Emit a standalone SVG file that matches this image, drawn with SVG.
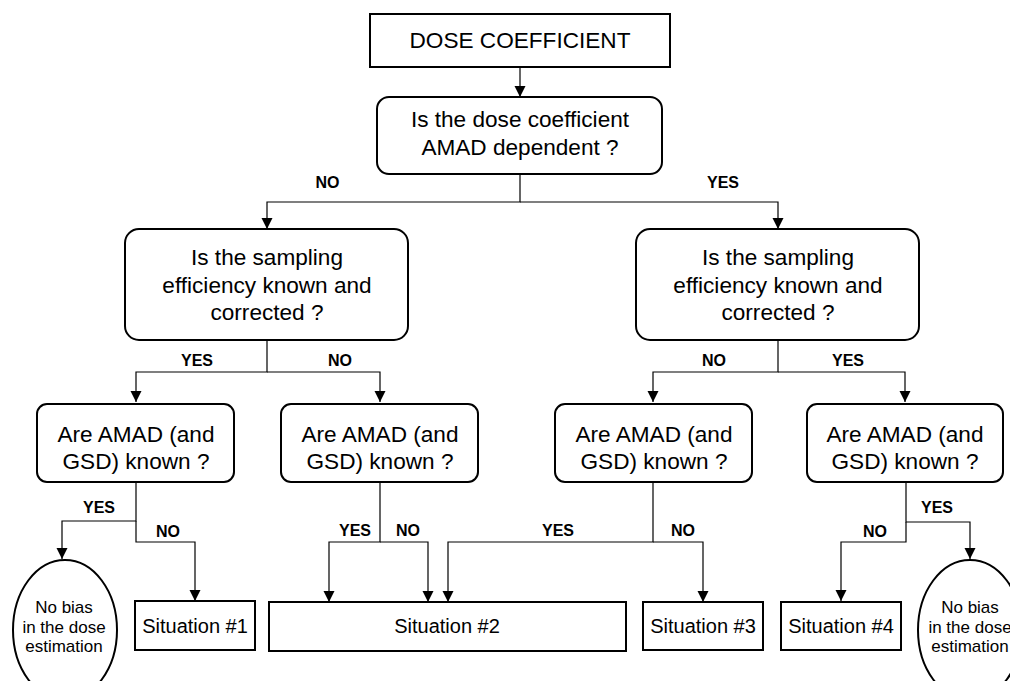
<svg xmlns="http://www.w3.org/2000/svg" width="1010" height="681" viewBox="0 0 1010 681">
<defs>
<marker id="ah" markerUnits="userSpaceOnUse" markerWidth="12" markerHeight="12" viewBox="0 0 12 12" refX="11" refY="6" orient="auto">
<path d="M0,0.5 L11,6 L0,11.5 Z" fill="#000"/>
</marker>
<style>
.box{fill:#fff;stroke:#000;stroke-width:2}
.t{font-family:"Liberation Sans",Arial,sans-serif;font-size:22.6px;text-anchor:middle;fill:#000}
.s{font-family:"Liberation Sans",Arial,sans-serif;font-size:20px;text-anchor:middle;fill:#000}
.e{font-family:"Liberation Sans",Arial,sans-serif;font-size:17px;text-anchor:middle;fill:#000}
.l{font-family:"Liberation Sans",Arial,sans-serif;font-size:16px;font-weight:bold;text-anchor:middle;fill:#000}
.c{fill:none;stroke:#000;stroke-width:1.2;marker-end:url(#ah)}
</style>
</defs>
<rect width="1010" height="681" fill="#fff"/>
<g id="connectors">
<path class="c" d="M520,67 V97"/>
<path class="c" d="M520,174 V202 H267 V229"/>
<path class="c" d="M520,202 H778 V229"/>
<path class="c" d="M267,340 V372 H136 V402"/>
<path class="c" d="M267,372 H380 V402"/>
<path class="c" d="M778,340 V372 H653 V402"/>
<path class="c" d="M778,372 H905 V402"/>
<path class="c" d="M136,482 V521 H62 V559"/>
<path class="c" d="M136,521 V542 H195 V601"/>
<path class="c" d="M380,482 V542 H329 V602"/>
<path class="c" d="M380,542 H428 V602"/>
<path class="c" d="M653,482 V542 H448 V602"/>
<path class="c" d="M653,542 H703 V602"/>
<path class="c" d="M906,482 V522 H970 V559"/>
<path class="c" d="M906,522 V542 H841 V601"/>
<text class="l" x="327.5" y="188">NO</text>
<text class="l" x="723" y="188">YES</text>
<text class="l" x="197" y="366">YES</text>
<text class="l" x="340" y="366">NO</text>
<text class="l" x="714" y="366">NO</text>
<text class="l" x="848" y="366">YES</text>
<text class="l" x="99" y="513">YES</text>
<text class="l" x="168" y="537">NO</text>
<text class="l" x="355" y="536">YES</text>
<text class="l" x="408" y="536">NO</text>
<text class="l" x="558" y="536">YES</text>
<text class="l" x="683" y="536">NO</text>
<text class="l" x="937" y="513">YES</text>
<text class="l" x="875" y="537">NO</text>
</g>
<g id="dose-coefficient">
<rect class="box" x="370" y="14" width="300" height="53"/>
<text class="t" x="520" y="48">DOSE COEFFICIENT</text>
</g>
<g id="amad-dependent">
<rect class="box" x="377" y="97" width="285" height="77" rx="12"/>
<text class="t" x="520" y="127">Is the dose coefficient</text>
<text class="t" x="520" y="155">AMAD dependent ?</text>
</g>
<g id="sampling-left">
<rect class="box" x="125" y="229" width="283" height="111" rx="14"/>
<text class="t" x="267" y="265">Is the sampling</text>
<text class="t" x="267" y="292.5">efficiency known and</text>
<text class="t" x="267" y="319.5">corrected ?</text>
</g>
<g id="sampling-right">
<rect class="box" x="636" y="229" width="283" height="111" rx="14"/>
<text class="t" x="778" y="265">Is the sampling</text>
<text class="t" x="778" y="292.5">efficiency known and</text>
<text class="t" x="778" y="319.5">corrected ?</text>
</g>
<g id="amad-1">
<rect class="box" x="37" y="404" width="197" height="78" rx="10"/>
<text class="t" x="136" y="442">Are AMAD (and</text>
<text class="t" x="136" y="469">GSD) known ?</text>
</g>
<g id="amad-2">
<rect class="box" x="281" y="404" width="197" height="78" rx="10"/>
<text class="t" x="380" y="442">Are AMAD (and</text>
<text class="t" x="380" y="469">GSD) known ?</text>
</g>
<g id="amad-3">
<rect class="box" x="555" y="404" width="197" height="78" rx="10"/>
<text class="t" x="654" y="442">Are AMAD (and</text>
<text class="t" x="654" y="469">GSD) known ?</text>
</g>
<g id="amad-4">
<rect class="box" x="807" y="404" width="196" height="78" rx="10"/>
<text class="t" x="905" y="442">Are AMAD (and</text>
<text class="t" x="905" y="469">GSD) known ?</text>
</g>
<g id="no-bias-left">
<ellipse class="box" cx="65" cy="630" rx="52" ry="70"/>
<text class="e" x="64" y="613">No bias</text>
<text class="e" x="64" y="633">in the dose</text>
<text class="e" x="64" y="652">estimation</text>
</g>
<g id="situation-1">
<rect class="box" x="135" y="601" width="120" height="49"/>
<text class="s" x="195" y="633">Situation #1</text>
</g>
<g id="situation-2">
<rect class="box" x="269" y="602" width="357" height="49"/>
<text class="s" x="447" y="633">Situation #2</text>
</g>
<g id="situation-3">
<rect class="box" x="643" y="602" width="120" height="48"/>
<text class="s" x="703" y="633">Situation #3</text>
</g>
<g id="situation-4">
<rect class="box" x="781" y="602" width="120" height="48"/>
<text class="s" x="841" y="633">Situation #4</text>
</g>
<g id="no-bias-right">
<ellipse class="box" cx="970" cy="630" rx="52" ry="70"/>
<text class="e" x="970" y="613">No bias</text>
<text class="e" x="970" y="633">in the dose</text>
<text class="e" x="970" y="652">estimation</text>
</g>
</svg>
